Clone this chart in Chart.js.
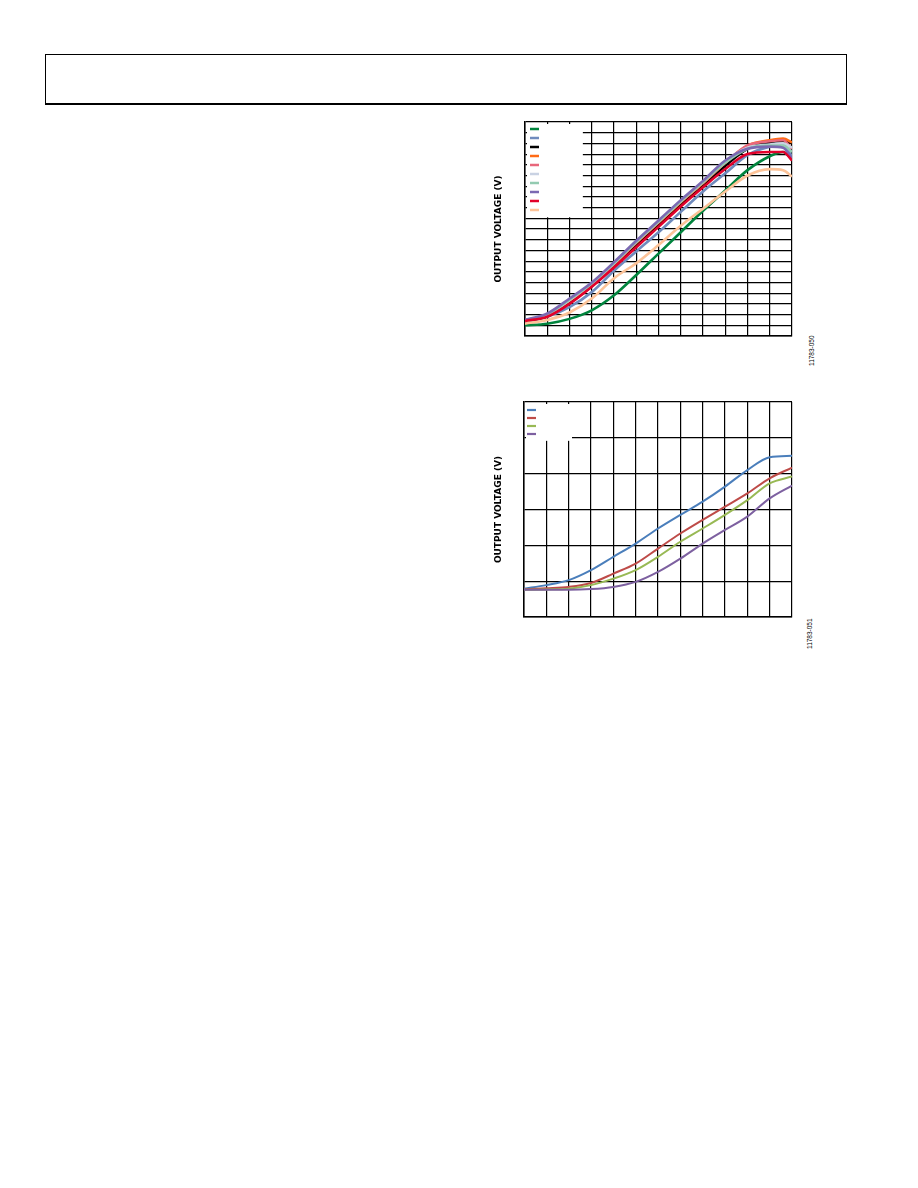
<!DOCTYPE html>
<html>
<head>
<meta charset="utf-8">
<script src="https://cdn.jsdelivr.net/npm/chart.js@4.4.0/dist/chart.umd.min.js"></script>
<style>
  body { margin: 0; background: #fff; }
  #page { position: relative; width: 918px; height: 1188px; background: #fff; }
  .header { position: absolute; left: 45px; top: 54px; width: 800px; height: 48px;
            border: 1px solid #000; border-bottom: 2px solid #000; }
  .plot { position: absolute; left: 488px; width: 312px; height: 232px; }
  .figid { position: absolute; font: 6.5px "Liberation Sans", sans-serif; color: #000;
           transform: rotate(-90deg); transform-origin: left top; white-space: nowrap; }
</style>
</head>
<body>
<div id="page">
  <div class="header"></div>
  <div class="plot" style="top:112px"><canvas id="chartTop"></canvas></div>
  <div class="plot" style="top:392px"><canvas id="chartBottom"></canvas></div>
  <div class="figid" style="left:808px; top:366px">11783-050</div>
  <div class="figid" style="left:806px; top:649px">11783-051</div>
</div>
<script>
// top chart: 10 curves, x in grid units (12 divisions), y in grid units (20 divisions)
const xTop = [0, 1, 2, 3, 4, 5, 6, 7, 8, 9, 10, 11, 11.6, 12];
const greenTop  = [1.0, 1.15, 1.6, 2.4, 3.8, 5.7, 7.7, 9.7, 11.7, 13.6, 15.5, 16.8, 17.2, 16.5];
const slateTop  = [1.3, 1.8, 2.7, 4.1, 6.1, 7.9, 9.7, 11.6, 13.5, 15.2, 16.9, 17.7, 17.8, 16.8];
const blackTop  = [1.4, 1.85, 3.1, 4.65, 6.5, 8.45, 10.35, 12.25, 14.0, 15.9, 17.5, 18.1, 18.2, 18.1];
const orangeTop = [1.4, 1.95, 3.3, 4.8, 6.7, 8.7, 10.6, 12.5, 14.3, 16.2, 17.8, 18.3, 18.45, 18.1];
const pinkTop   = [1.45, 2.0, 3.35, 4.85, 6.75, 8.75, 10.65, 12.55, 14.35, 16.2, 17.8, 18.2, 18.3, 17.5];
const greyTop   = [1.45, 2.0, 3.35, 4.9, 6.8, 8.8, 10.7, 12.6, 14.4, 16.3, 17.6, 17.9, 18.0, 17.6];
const mintTop   = [1.45, 2.0, 3.4, 4.9, 6.8, 8.8, 10.7, 12.6, 14.4, 16.2, 17.5, 17.8, 17.8, 17.2];
const purpleTop = [1.5, 2.1, 3.5, 5.0, 6.9, 8.9, 10.8, 12.7, 14.5, 16.4, 17.5, 17.7, 17.6, 16.6];
const redTop    = [1.4, 1.8, 3.0, 4.6, 6.4, 8.3, 10.2, 12.1, 13.9, 15.6, 17.0, 17.2, 17.2, 16.4];
const peachTop  = [1.15, 1.5, 2.2, 3.5, 5.4, 6.8, 8.5, 10.3, 11.9, 13.5, 15.0, 15.6, 15.5, 14.9];

// bottom chart: 4 curves, y in grid units (6 divisions)
const xBottom = [0, 1, 2, 3, 4, 5, 6, 7, 8, 9, 10, 11, 12];
const blueBottom   = [0.79, 0.89, 1.03, 1.31, 1.68, 2.05, 2.47, 2.85, 3.22, 3.64, 4.10, 4.46, 4.50];
const redBottom    = [0.77, 0.80, 0.84, 0.95, 1.21, 1.49, 1.91, 2.33, 2.71, 3.08, 3.45, 3.87, 4.17];
const greenBottom  = [0.76, 0.77, 0.79, 0.89, 1.07, 1.31, 1.68, 2.10, 2.47, 2.85, 3.26, 3.73, 3.92];
const purpleBottom = [0.76, 0.76, 0.76, 0.78, 0.84, 0.98, 1.26, 1.63, 2.05, 2.43, 2.80, 3.31, 3.67];

function toPoints(xs, ys) {
    return ys.map((y, i) => ({ x: xs[i], y: y }));
}

// later series are drawn on top, like the original plot
function makeSet(xs, ys, color, width, layer) {
    return {
        data: toPoints(xs, ys),
        borderColor: color,
        backgroundColor: color,
        borderWidth: width,
        pointRadius: 0,
        tension: 0,
        cubicInterpolationMode: 'monotone',
        fill: false,
        order: 20 - layer
    };
}

// white legend patch in the top-left corner with short colour strokes, no text
const cornerKey = {
    id: 'cornerKey',
    beforeDatasetsDraw(chart, args, opts) {
        const ctx = chart.ctx;
        const area = chart.chartArea;
        const xs = chart.scales.x, ys = chart.scales.y;
        const right = xs.getPixelForValue(opts.boxRight);
        const bottom = ys.getPixelForValue(opts.boxBottom) + opts.bottomShift;
        ctx.save();
        ctx.fillStyle = '#fff';
        ctx.fillRect(area.left + 2, area.top + 2, right - area.left - 2, bottom - area.top - 2);
        ctx.lineWidth = opts.lineWidth;
        chart.data.datasets.forEach((ds, i) => {
            const y = area.top + opts.firstY + i * opts.stepY;
            ctx.strokeStyle = ds.borderColor;
            ctx.beginPath();
            ctx.moveTo(area.left + opts.startX, y);
            ctx.lineTo(area.left + opts.startX + opts.length, y);
            ctx.stroke();
        });
        ctx.restore();
    }
};

function buildOptions(yMax, padBottom, yWidth, key) {
    return {
        responsive: true,
        maintainAspectRatio: false,
        animation: false,
        layout: { padding: { top: 10, right: 8, bottom: padBottom, left: 0 } },
        plugins: {
            legend: { display: false },
            tooltip: { enabled: false },
            cornerKey: key
        },
        scales: {
            x: {
                type: 'linear',
                min: 0,
                max: 12,
                ticks: { display: false, stepSize: 1 },
                grid: { color: '#000', lineWidth: 1.2, drawTicks: false },
                border: { color: '#000', width: 1.5 },
                afterFit: function (scale) { scale.height = 0; }
            },
            y: {
                min: 0,
                max: yMax,
                ticks: { display: false, stepSize: 1 },
                grid: { color: '#000', lineWidth: 1.2, drawTicks: false },
                border: { color: '#000', width: 1.5 },
                title: {
                    display: true,
                    text: 'OUTPUT VOLTAGE (V)',
                    color: '#000',
                    font: { family: 'DejaVu Sans', size: 9, weight: 'bold', lineHeight: 1.2 },
                    padding: { top: 5, bottom: 0 }
                },
                afterFit: function (scale) { scale.width = yWidth; }
            }
        }
    };
}

new Chart(document.getElementById('chartTop').getContext('2d'), {
    type: 'line',
    data: {
        datasets: [
            makeSet(xTop, greenTop, '#00843d', 2.6, 0),
            makeSet(xTop, slateTop, '#6f8bbd', 2.6, 1),
            makeSet(xTop, blackTop, '#000000', 2.6, 2),
            makeSet(xTop, orangeTop, '#ff6b16', 2.6, 3),
            makeSet(xTop, pinkTop, '#e8677b', 2.6, 4),
            makeSet(xTop, greyTop, '#c9d2e3', 2.6, 5),
            makeSet(xTop, mintTop, '#93cbb1', 2.6, 6),
            makeSet(xTop, purpleTop, '#7b69b2', 2.6, 7),
            makeSet(xTop, redTop, '#e2002a', 2.6, 8),
            makeSet(xTop, peachTop, '#fdc398', 2.6, 9)
        ]
    },
    options: buildOptions(20, 8, 37, {
        boxRight: 2.6, boxBottom: 11, bottomShift: -1,
        startX: 5, length: 9, firstY: 7, stepY: 9, lineWidth: 2.5
    }),
    plugins: [cornerKey]
});

new Chart(document.getElementById('chartBottom').getContext('2d'), {
    type: 'line',
    data: {
        datasets: [
            makeSet(xBottom, blueBottom, '#4a7ebb', 2, 0),
            makeSet(xBottom, redBottom, '#be4b48', 2, 1),
            makeSet(xBottom, greenBottom, '#98b954', 2, 2),
            makeSet(xBottom, purpleBottom, '#7d60a0', 2, 3)
        ]
    },
    options: buildOptions(6, 7, 36, {
        boxRight: 2.15, boxBottom: 5, bottomShift: 3,
        startX: 3, length: 9, firstY: 8, stepY: 8, lineWidth: 2.2
    }),
    plugins: [cornerKey]
});
</script>
</body>
</html>
